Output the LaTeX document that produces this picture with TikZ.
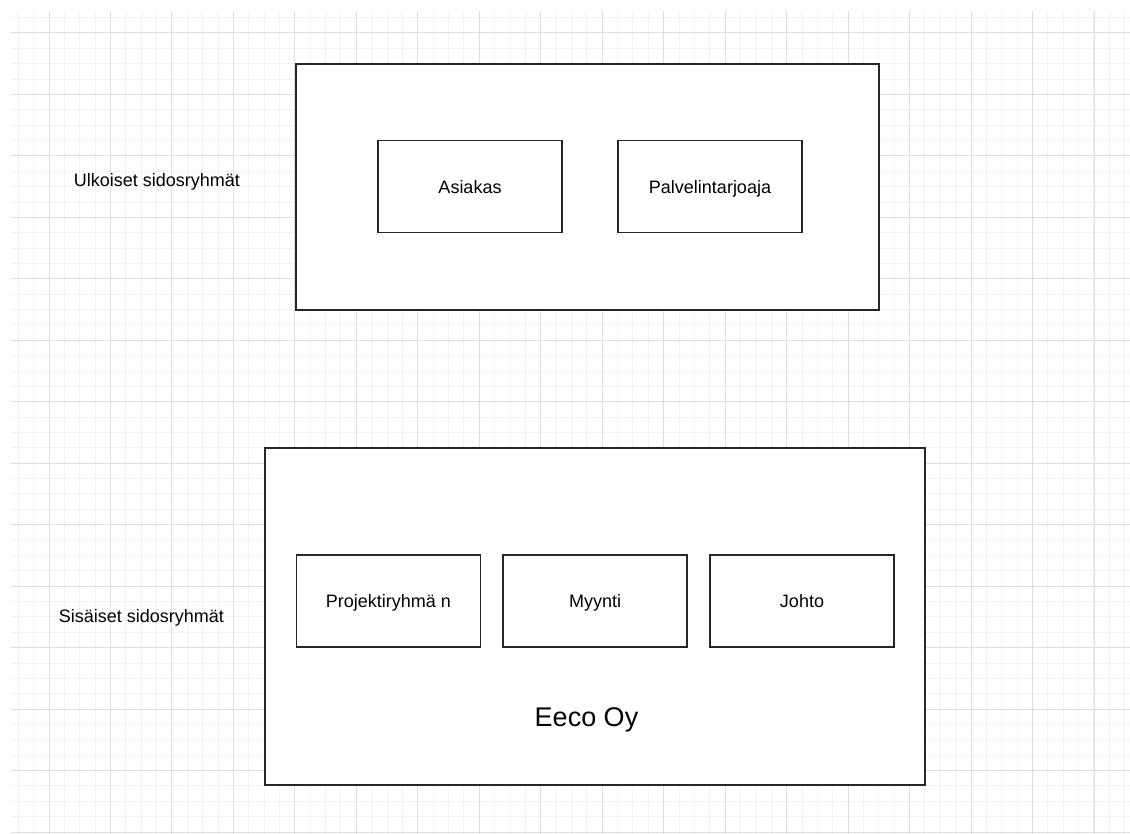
\documentclass[tikz,border=0pt]{standalone}
\usepackage{fontspec}
\setmainfont{Liberation Sans}
\begin{document}
\begin{tikzpicture}[x=0.75pt,y=-0.75pt,
  minorgrid/.style={draw=black!5,line width=0.75pt},
  majorgrid/.style={draw=black!13,line width=0.75pt},
  outerbox/.style={draw=black!85,line width=1.5pt,fill=white,minimum width=#1},
  innerbox/.style={draw=black!85,line width=1.1pt,fill=white,minimum width=138pt,minimum height=69pt,inner sep=0pt,text height=12pt,text depth=1.8pt,font=\fontsize{13.5}{16}\selectfont},
  label/.style={font=\fontsize{13.5}{16}\selectfont,inner sep=0pt,anchor=base},
  biglabel/.style={font=\fontsize{20.25}{24}\selectfont,inner sep=0pt,anchor=base}]
\useasboundingbox (0,0) rectangle (1130,834);
\fill[white] (0,0) rectangle (1130,834);
\begin{scope}
\clip (11,11) rectangle (1130,834);
\foreach \i in {0,...,72} {\draw[minorgrid] ({18.27+15.367*\i},11) -- ({18.27+15.367*\i},834);}
\foreach \j in {0,...,53} {\draw[minorgrid] (11,{17.6+15.367*\j}) -- (1130,{17.6+15.367*\j});}
\foreach \i in {0,...,17} {\draw[majorgrid] ({49+61.47*\i},11) -- ({49+61.47*\i},834);}
\foreach \j in {0,...,13} {\draw[majorgrid] (11,{33+61.47*\j}) -- (1130,{33+61.47*\j});}
\end{scope}
% top group
\node[outerbox=437.25pt,minimum height=184.5pt] (ext) at (587.5,187) {};
\node[innerbox] (asiakas) at (470,186.5) {Asiakas};
\node[innerbox] (palv) at (710,186.5) {Palvelintarjoaja};
% bottom group
\node[outerbox=495pt,minimum height=252.75pt] (eeco) at (595,616.5) {};
\node[innerbox] (proj) at (388.3,601) {Projektiryhmä n};
\node[innerbox] (myynti) at (595,601) {Myynti};
\node[innerbox] (johto) at (802,601) {Johto};
\node[biglabel] (eecolbl) at (586.5,726) {Eeco Oy};
% side labels
\node[label] (ulk) at (157,186.7) {Ulkoiset sidosryhmät};
\node[label] (sis) at (141.5,622.7) {Sisäiset sidosryhmät};
\end{tikzpicture}
\end{document}
